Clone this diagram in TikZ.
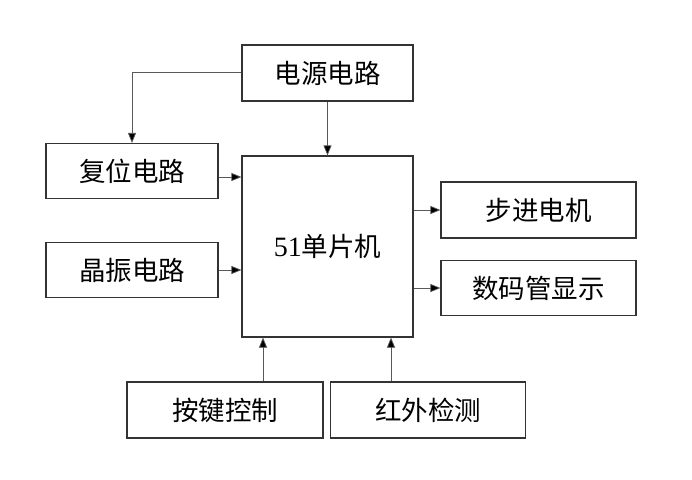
\documentclass[tikz,border=0pt]{standalone}
\usepackage{fontspec}
\setmainfont{Noto Sans CJK SC}
\newfontfamily\latinfont{Liberation Serif}
\usetikzlibrary{arrows.meta,positioning}
\begin{document}
\begin{tikzpicture}[x=1pt,y=-1pt,
  blk/.style={draw=black!80,line width=1.2pt,inner sep=0pt,font=\fontsize{26.5}{28}\selectfont},
  arr/.style={draw=black!65,line width=0.7pt,-{Triangle[length=10pt,width=8pt,fill=black]}}]
\useasboundingbox[fill=white] (0,0) rectangle (692,479);
\node[blk,minimum width=171pt,minimum height=56pt] (pwr) at (327.5,73) {电源电路};
\node[blk,minimum width=172pt,minimum height=55pt] (rst) at (132,171) {复位电路};
\node[blk,minimum width=172pt,minimum height=55pt] (osc) at (132,270) {晶振电路};
\node[blk,minimum width=171pt,minimum height=181pt] (mcu) at (327.5,246.5) {{\latinfont\fontsize{28}{30}\selectfont 51}单片机};
\node[blk,minimum width=195pt,minimum height=56pt] (step) at (538.5,210) {步进电机};
\node[blk,minimum width=195pt,minimum height=55pt] (disp) at (538.5,288) {数码管显示};
\node[blk,minimum width=196pt,minimum height=56pt] (key) at (225,410) {按键控制};
\node[blk,minimum width=195pt,minimum height=56pt] (ir) at (428,410) {红外检测};
\coordinate (c1) at (132,72);
\draw[arr] (pwr.west |- c1) -- (c1) -- (rst.north);
\draw[arr] (pwr.south) -- (mcu.north);
\draw[arr] (rst.east |- 0,177) -- (mcu.west |- 0,177);
\draw[arr] (osc.east) -- (mcu.west |- osc.east);
\draw[arr] (mcu.east |- step.west) -- (step.west);
\draw[arr] (mcu.east |- disp.west) -- (disp.west);
\draw[arr] (key.north -| 263,0) -- (mcu.south -| 263,0);
\draw[arr] (ir.north -| 391,0) -- (mcu.south -| 391,0);
\end{tikzpicture}
\end{document}
